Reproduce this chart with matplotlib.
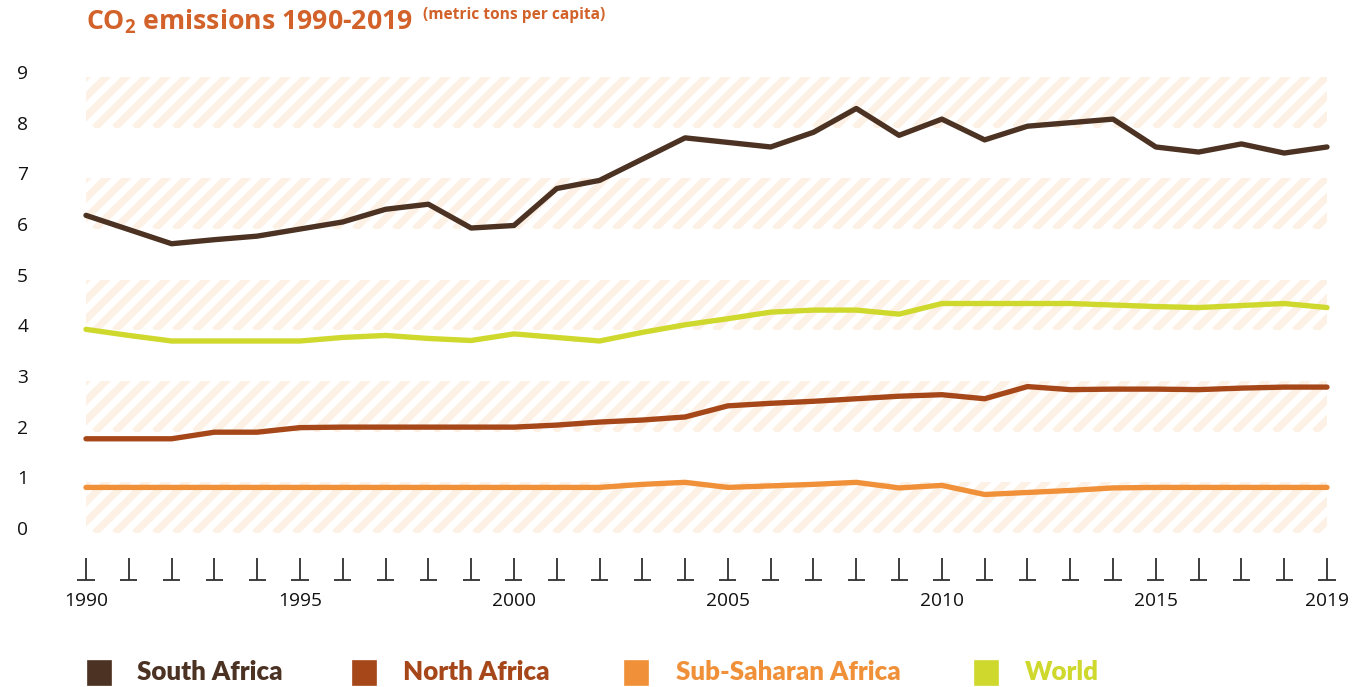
import matplotlib
matplotlib.use("Agg")
import numpy as np
import matplotlib.pyplot as plt
from matplotlib.patches import Rectangle
from matplotlib.transforms import blended_transform_factory

plt.rcParams['font.family'] = ['Open Sans', 'DejaVu Sans']

years = list(range(1990, 2020))

south_africa = [6.17, 5.89, 5.61, 5.69, 5.76, 5.90, 6.04, 6.29, 6.39, 5.92,
                5.97, 6.70, 6.86, 7.28, 7.70, 7.61, 7.52, 7.81, 8.28, 7.75,
                8.07, 7.66, 7.93, 8.00, 8.07, 7.52, 7.42, 7.58, 7.40, 7.52]
north_africa = [1.76, 1.76, 1.76, 1.89, 1.89, 1.98, 1.99, 1.99, 1.99, 1.99,
                1.99, 2.03, 2.09, 2.13, 2.19, 2.41, 2.46, 2.50, 2.55, 2.60,
                2.63, 2.55, 2.79, 2.73, 2.74, 2.74, 2.73, 2.76, 2.78, 2.78]
sub_saharan = [0.80, 0.80, 0.80, 0.80, 0.80, 0.80, 0.80, 0.80, 0.80, 0.80,
               0.80, 0.80, 0.80, 0.86, 0.90, 0.80, 0.83, 0.86, 0.90, 0.79,
               0.84, 0.66, 0.70, 0.74, 0.79, 0.80, 0.80, 0.80, 0.80, 0.80]
world = [3.92, 3.80, 3.69, 3.69, 3.69, 3.69, 3.76, 3.80, 3.74, 3.70,
         3.83, 3.76, 3.69, 3.86, 4.01, 4.13, 4.26, 4.30, 4.30, 4.22,
         4.43, 4.43, 4.43, 4.43, 4.40, 4.37, 4.35, 4.39, 4.43, 4.35]

series_names = ['South Africa', 'North Africa', 'Sub-Saharan Africa', 'World']
series_values = [south_africa, north_africa, sub_saharan, world]
series_colors = ['#4b3222', '#a6471a', '#f0913a', '#cfd82d']

y_ticks = list(range(10))
band_starts = [0, 2, 4, 6, 8]
x_labels = [1990, 1995, 2000, 2005, 2010, 2015, 2019]

W, H, DPI = 1355, 687, 120
fig = plt.figure(figsize=(W / DPI, H / DPI), dpi=DPI)

# axes area in pixels: x 86..1327, y 72..533
left, right, top, bottom = 86, 1327, 72, 533
ax = fig.add_axes([left / W, (H - bottom) / H, (right - left) / W, (bottom - top) / H])
ax.set_xlim(1990, 2019)
ax.set_ylim(-0.1, 8.9)
for s in ax.spines.values():
    s.set_visible(False)

# striped bands (45 deg stripes, ~20 px apart)
px_x = (right - left) / 29.0
px_y = (bottom - top) / 9.0
step = 20 / px_x
slope = px_x / px_y
for b in band_starts:
    clip = Rectangle((1990, b - 0.1), 29, 1.0, transform=ax.transData,
                     facecolor='none', edgecolor='none')
    ax.add_patch(clip)
    y0, y1 = b - 0.1, b + 0.9
    span = (y1 - y0) / slope
    for x0 in np.arange(1990 - span - step, 2019 + step, step):
        ln, = ax.plot([x0, x0 + span * 1.2], [y0, y0 + span * 1.2 * slope],
                      color='#fcf1e4', lw=4.3, solid_capstyle='butt', zorder=0)
        ln.set_clip_path(clip)

for vals, c in zip(series_values, series_colors):
    ax.plot(years, vals, color=c, lw=3.2, solid_capstyle='round',
            solid_joinstyle='round', clip_on=False, zorder=3)

# y ticks
ax.set_yticks(y_ticks)
ax.set_yticklabels([str(v) for v in y_ticks])
ax.tick_params(axis='y', length=0, pad=38, labelsize=11.5, labelcolor='#111111')
for lab in ax.get_yticklabels():
    lab.set_horizontalalignment('center')

# x ticks drawn as inverted T marks
ax.set_xticks([])
trans = blended_transform_factory(ax.transData, ax.transAxes)
y_a = (bottom - 558) / (bottom - top)
y_b = (bottom - 580) / (bottom - top)
ax.vlines(years, y_b, y_a, transform=trans, color='#333333', lw=1.1, clip_on=False)
ax.hlines([y_b] * len(years), [y - 0.2 for y in years], [y + 0.2 for y in years],
          transform=trans, color='#333333', lw=1.1, clip_on=False)
y_lab = (bottom - 601) / (bottom - top)
for xl in x_labels:
    ax.text(xl, y_lab, str(xl), transform=trans, ha='center', va='center',
            fontsize=11.5, color='#111111')

# title
fig.text(86 / W, 1 - 30 / H, r'CO$_\mathregular{2}$ emissions 1990-2019',
         fontsize=16, fontweight='bold', color='#d2622a', va='baseline')
fig.text(423 / W, 1 - 15 / H, '(metric tons per capita)', fontsize=9.3,
         fontweight='bold', color='#d2622a', va='center')

# legend
sq_x = [88, 353, 625, 975]
txt_x = [137, 403, 676, 1025]
for name, c, sx, tx in zip(series_names, series_colors, sq_x, txt_x):
    fig.patches.append(Rectangle((sx / W, 1 - 685 / H), 23 / W, 24 / H,
                                 transform=fig.transFigure, color=c))
    fig.text(tx / W, 1 - 672 / H, name, fontsize=15.5, fontweight='heavy',
             color=c, va='center', family=['Lato', 'DejaVu Sans'])

fig.savefig('out.png', dpi=DPI)
